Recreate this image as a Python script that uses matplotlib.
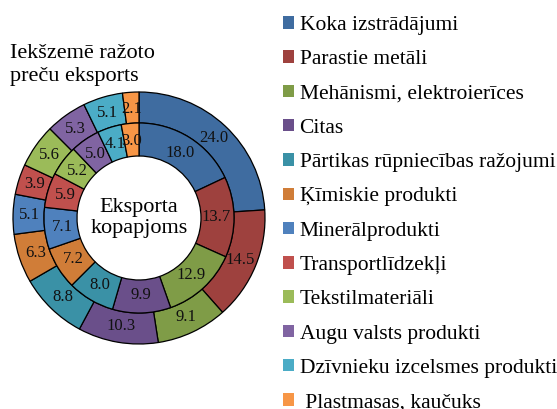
import matplotlib
matplotlib.use("Agg")
import matplotlib.pyplot as plt
from matplotlib.patches import Patch
import numpy as np

plt.rcParams['font.family'] = ['Liberation Serif', 'DejaVu Serif']

categories = ["Koka izstrādājumi", "Parastie metāli", "Mehānismi, elektroierīces",
              "Citas", "Pārtikas rūpniecības ražojumi", "Ķīmiskie produkti",
              "Minerālprodukti", "Transportlīdzekļi", "Tekstilmateriāli",
              "Augu valsts produkti", "Dzīvnieku izcelsmes produkti",
              "Plastmasas, kaučuks"]
outer_values = [24.0, 14.5, 9.1, 10.3, 8.8, 6.3, 5.1, 3.9, 5.6, 5.3, 5.1, 2.1]
inner_values = [18.0, 13.7, 12.9, 9.9, 8.0, 7.2, 7.1, 5.9, 5.2, 5.0, 4.1, 3.0]
colors = ["#3F6CA0", "#9E413E", "#7F9C47", "#6A4F8A", "#3A91A6", "#D07D38",
          "#4F81BD", "#C0504D", "#9BBB59", "#8064A2", "#4BACC6", "#F79646"]
title_text = "Iekšzemē ražoto\npreču eksports"
center_text = "Eksporta\nkopapjoms"

W, H = 557, 409
fig = plt.figure(figsize=(W / 100, H / 100), dpi=100)
cx, cy, R = 139, 218, 126
ax = fig.add_axes([(cx - R) / W, (H - cy - R) / H, 2 * R / W, 2 * R / H])
ax.set_aspect('equal')
ax.axis('off')

r_mid = 0.754
r_hole = 0.492
edge = dict(edgecolor='black', linewidth=0.9)

w_out, _ = ax.pie(outer_values, radius=1.0, colors=colors, startangle=90,
                  counterclock=False, wedgeprops=dict(width=1.0 - r_mid, **edge))
w_in, _ = ax.pie(inner_values, radius=r_mid, colors=colors, startangle=90,
                 counterclock=False, wedgeprops=dict(width=r_mid - r_hole, **edge))
ax.set_xlim(-1, 1)
ax.set_ylim(-1, 1)

def label(wedges, values, rr):
    for w, v in zip(wedges, values):
        a = np.deg2rad((w.theta1 + w.theta2) / 2)
        ax.text(rr * np.cos(a), rr * np.sin(a), f"{v:.1f}", ha='center',
                va='center', fontsize=12, color='#111111')

label(w_out, outer_values, 0.868)
label(w_in, inner_values, 0.615)

ax.text(0, 0, center_text, ha='center', va='center', fontsize=16,
        linespacing=1.12)

fig.text(10 / W, 1 - 44 / H, title_text, ha='left', va='top', fontsize=16,
         linespacing=1.32)

handles = [Patch(facecolor=c, edgecolor='none') for c in colors]
labels = categories[:-1] + [" " + categories[-1]]
fig.legend(handles, labels, loc='upper left',
           bbox_to_anchor=(283 / W, 1 - 16 / H), frameon=False, fontsize=15.5,
           handlelength=0.52, handleheight=0.52, handletextpad=0.25,
           labelspacing=0.71, borderaxespad=0, borderpad=0)

fig.savefig("out.png", dpi=100)
